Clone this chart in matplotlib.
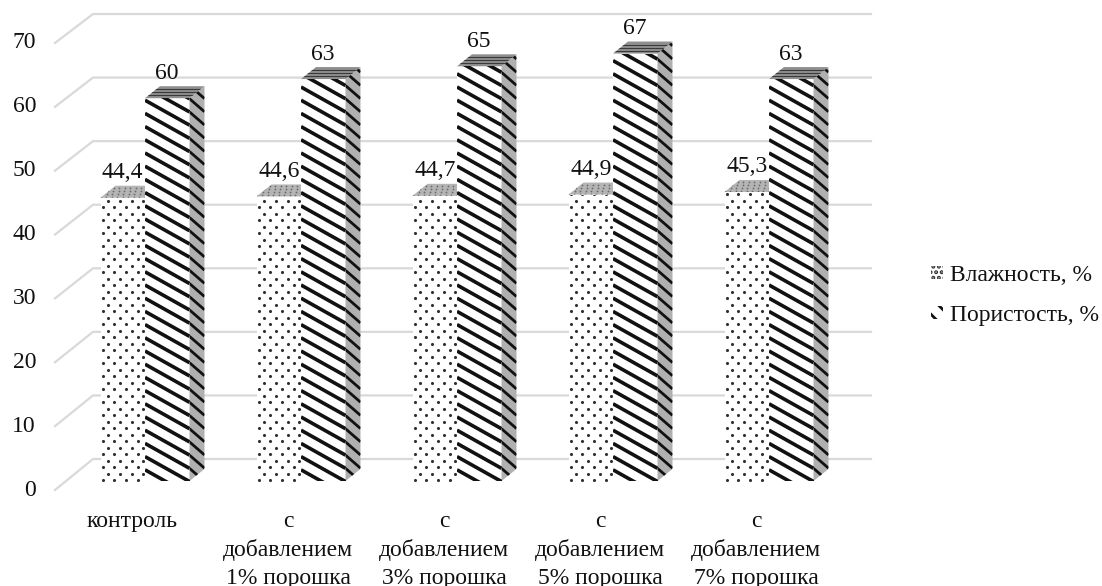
import numpy as np
import matplotlib
matplotlib.use('Agg')
import matplotlib.pyplot as plt
from matplotlib.patches import Patch, Polygon

plt.rcParams['font.family'] = ['Liberation Serif', 'DejaVu Serif']
plt.rcParams['hatch.linewidth'] = 2.0

categories = ['контроль', 'с\nдобавлением\n1% порошка', 'с\nдобавлением\n3% порошка',
              'с\nдобавлением\n5% порошка', 'с\nдобавлением\n7% порошка']
moisture = [44.4, 44.6, 44.7, 44.9, 45.3]
porosity = [60, 63, 65, 67, 63]
moisture_labels = ['44,4', '44,6', '44,7', '44,9', '45,3']
porosity_labels = ['60', '63', '65', '67', '63']
y_ticks = [0, 10, 20, 30, 40, 50, 60, 70]
series_names = ['Влажность, %', 'Пористость, %']

# pixel scale of the picture, used to keep the fake 3d depth right
PX_X = 156.0
PX_Y = 6.38
BAR_W = 44.5 / PX_X
DX = 15 / PX_X
DY = 12 / PX_Y
GRID = '#d9d9d9'
FS = 17


def xp(p):
    return (p - 145) / PX_X


def yp(p):
    return (481 - p) / PX_Y


def side_top(ax, x, h, side_color, top_color, z):
    side = Polygon([(x + BAR_W, 0), (x + BAR_W + DX, DY), (x + BAR_W + DX, h + DY), (x + BAR_W, h)],
                   closed=True, facecolor=side_color, edgecolor='none', zorder=z)
    top = Polygon([(x, h), (x + BAR_W, h), (x + BAR_W + DX, h + DY), (x + DX, h + DY)],
                  closed=True, facecolor=top_color, edgecolor='none', zorder=z)
    ax.add_patch(side)
    ax.add_patch(top)
    return side, top


def draw_dotted(ax, x, h):
    patch = ax.bar(x, h, BAR_W, align='edge', color='white', zorder=3)[0]
    side, top = side_top(ax, x, h, '#bfbfbf', '#b4b4b4', 3)
    xs, ys = [], []
    for row in range(int(h * PX_Y / 6.5) + 2):
        for col in range(6):
            xs.append(x + (col * 11.7 + 2 + (row % 2) * 5.8) / PX_X)
            ys.append((row * 6.5 + 1) / PX_Y)
    dots = ax.scatter(xs, ys, s=5, color='#303030', linewidths=0, zorder=4)
    dots.set_clip_path(patch)
    # speckle on the top face
    tx, ty = [], []
    for row in range(4):
        for col in range(10):
            tx.append(x + (col * 5.5 + (row % 2) * 2.7 + row * 3.5) / PX_X)
            ty.append(h + (row * 3 + 1) / PX_Y)
    speck = ax.scatter(tx, ty, s=1.6, color='#6a6a6a', linewidths=0, zorder=4)
    speck.set_clip_path(top)


def draw_striped(ax, x, h):
    patch = ax.bar(x, h, BAR_W, align='edge', color='white', zorder=5)[0]
    side, top = side_top(ax, x, h, '#b0b0b0', '#8f8f8f', 5)
    total = h * PX_Y
    # front stripes fall to the right, the side ones a bit steeper
    for k in range(int(total / 13.2) + 6):
        y_left = (k * 13.2 - 2) / PX_Y
        y_right = y_left - 44.5 * 0.56 / PX_Y
        line, = ax.plot([x, x + BAR_W], [y_left, y_right], color='#111111', lw=2.6,
                        solid_capstyle='butt', zorder=6)
        line.set_clip_path(patch)
        line, = ax.plot([x + BAR_W, x + BAR_W + DX], [y_right, y_right - 15 * 0.87 / PX_Y],
                        color='#111111', lw=2.0, solid_capstyle='butt', zorder=6)
        line.set_clip_path(side)
    for k in range(1, 4):
        f = k * 3 / PX_Y
        line, = ax.plot([x + k * 3.7 / PX_X - 0.02, x + BAR_W + k * 3.7 / PX_X], [h + f, h + f],
                        color='#3a3a3a', lw=0.8, zorder=6)
        line.set_clip_path(top)


fig = plt.figure(figsize=(11.02, 5.86), dpi=100)
ax = fig.add_axes([0, 0, 1, 1])
ax.set_xlim(xp(0), xp(1102))
ax.set_ylim(yp(586), yp(0))
ax.axis('off')

# back wall grid with the short diagonal at the left
for v in y_ticks:
    y_front = yp(490 - v * 6.386)
    y_back = yp(459 - v * 6.357)
    ax.plot([xp(55), xp(93), xp(871)], [y_front, y_back, y_back], color=GRID, lw=1.6,
            solid_joinstyle='miter', zorder=1)
    ax.text(xp(36), y_front, str(v), ha='right', va='center', fontsize=FS, color='#111111')

for i, cat in enumerate(categories):
    x_m = i - BAR_W
    draw_dotted(ax, x_m, moisture[i])
    draw_striped(ax, i, porosity[i])
    ax.text(x_m + BAR_W / 2, moisture[i] + 25 / PX_Y, moisture_labels[i], ha='center', va='center',
            fontsize=FS, color='#111111', zorder=8)
    ax.text(i + BAR_W / 2, porosity[i] + 25 / PX_Y, porosity_labels[i], ha='center', va='center',
            fontsize=FS, color='#111111', zorder=8)
    ax.text(xp(132) + i, yp(511), cat, ha='center', va='top', fontsize=FS, linespacing=1.42,
            color='#111111')

handles = [Patch(facecolor='white', edgecolor='#333333', linewidth=0, hatch='...'),
           Patch(facecolor='white', edgecolor='#111111', linewidth=0, hatch='\\\\')]
ax.legend(handles, series_names, loc='upper left', bbox_to_anchor=(931 / 1102, 1 - 265 / 586),
          frameon=False, fontsize=FS, handlelength=0.52, handleheight=0.5, handletextpad=0.3,
          labelspacing=0.8, borderpad=0, borderaxespad=0, labelcolor='#111111')

fig.savefig('out.png', dpi=100)
